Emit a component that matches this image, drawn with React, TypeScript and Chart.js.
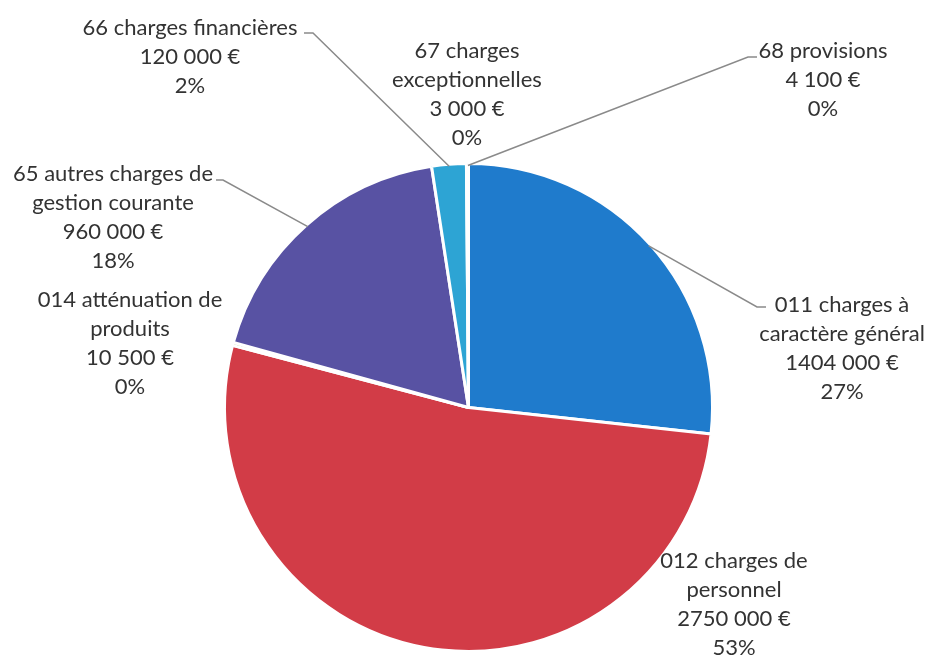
import React, { useEffect, useRef } from "react";
import { Chart, registerables } from "chart.js";

Chart.register(...registerables);

// ---- data ----
const categories = [
  "011 charges à caractère général",
  "012 charges de personnel",
  "014 atténuation de produits",
  "65 autres charges de gestion courante",
  "66 charges financières",
  "67 charges exceptionnelles",
  "68 provisions",
];
const values = [1404000, 2750000, 10500, 960000, 120000, 3000, 4100];
const percentLabels = ["27%", "53%", "0%", "18%", "2%", "0%", "0%"];

// ---- presentation ----
const nameLines = [
  ["011 charges à", "caractère général"],
  ["012 charges de", "personnel"],
  ["014 atténuation de", "produits"],
  ["65 autres charges de", "gestion courante"],
  ["66 charges financières"],
  ["67 charges", "exceptionnelles"],
  ["68 provisions"],
];
const colors = ["#1f7bcc", "#d23c47", "#8fb84a", "#5852a3", "#2da4d4", "#e08a2c", "#7a3f9b"];
// label block: center x, middle y of first line
const labelPos = [
  [842, 305],
  [734, 561],
  [130, 300],
  [113, 174],
  [190, 28],
  [467, 51],
  [823, 51],
];
// leader: [elbowX, elbowY, endX] or null
const leaders: (number[] | null)[] = [
  [757, 307, 766],
  null,
  null,
  [223, 180, 216],
  [313, 33, 304],
  null,
  [748, 57, 757],
];
const LINE_H = 29;

function fmtEuro(v: number) {
  const hi = Math.floor(v / 1000);
  const lo = String(v % 1000).padStart(3, "0");
  return `${hi} ${lo} €`;
}

const labelPlugin = {
  id: "outLabels",
  afterDraw(chart: any) {
    const ctx = chart.ctx;
    const meta = chart.getDatasetMeta(0);
    ctx.save();
    ctx.strokeStyle = "#8a8a8a";
    ctx.lineWidth = 1.5;
    meta.data.forEach((arc: any, i: number) => {
      const l = leaders[i];
      if (!l) return;
      const mid = (arc.startAngle + arc.endAngle) / 2;
      const sx = arc.x + Math.cos(mid) * (arc.outerRadius - 2);
      const sy = arc.y + Math.sin(mid) * (arc.outerRadius - 2);
      ctx.beginPath();
      ctx.moveTo(sx, sy);
      ctx.lineTo(l[0], l[1]);
      ctx.lineTo(l[2], l[1]);
      ctx.stroke();
    });
    ctx.fillStyle = "#333333";
    ctx.font = "22px Lato, 'Open Sans', sans-serif";
    ctx.textAlign = "center";
    ctx.textBaseline = "middle";
    categories.forEach((_, i) => {
      const lines = [...nameLines[i], fmtEuro(values[i]), percentLabels[i]];
      const [cx, cy] = labelPos[i];
      lines.forEach((t, k) => ctx.fillText(t, cx, cy + k * LINE_H));
    });
    ctx.restore();
  },
};

export default function App() {
  const ref = useRef<HTMLCanvasElement | null>(null);
  useEffect(() => {
    if (!ref.current) return;
    const chart = new Chart(ref.current, {
      type: "pie",
      data: {
        labels: categories,
        datasets: [
          {
            data: values,
            backgroundColor: colors,
            borderColor: "#ffffff",
            borderWidth: 3,
          },
        ],
      },
      options: {
        responsive: false,
        animation: false,
        layout: { padding: { left: 223, right: 216, top: 162, bottom: 4 } },
        plugins: { legend: { display: false }, tooltip: { enabled: false } },
      },
      plugins: [labelPlugin],
    });
    return () => chart.destroy();
  }, []);
  return (
    <div style={{ position: "fixed", left: 0, top: 0, width: 930, height: 657, background: "#fff" }}>
      <canvas ref={ref} width={930} height={657} />
    </div>
  );
}
